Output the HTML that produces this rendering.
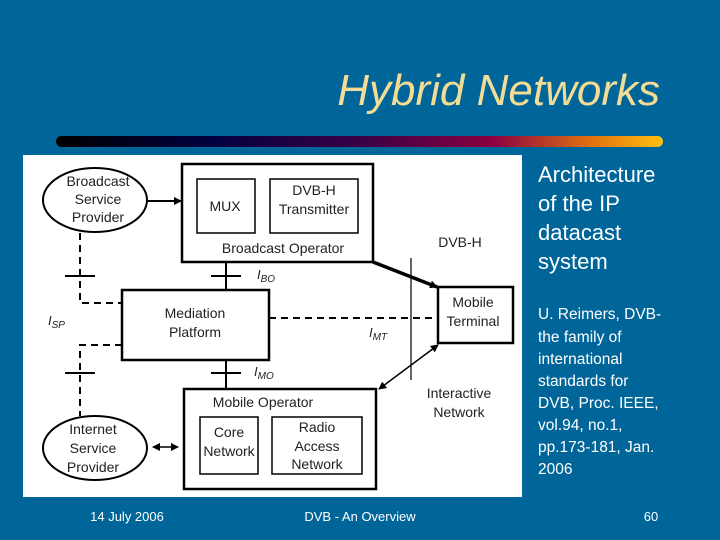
<!DOCTYPE html>
<html><head><style>
body{margin:0;width:720px;height:540px;background:#00669a;overflow:hidden;position:relative;font-family:"Liberation Sans",sans-serif}
.t{position:absolute;color:#fff}
</style></head><body>
<div class="t" style="right:60px;top:66px;font-size:44px;font-style:italic;color:#f5dc94">Hybrid Networks</div>
<div style="position:absolute;left:56px;top:136px;width:607px;height:11px;border-radius:6px;background:linear-gradient(90deg,#000 0%,#000040 25%,#3a0046 50%,#8a0040 72%,#e07010 88%,#ffc010 100%)"></div>
<svg style="position:absolute;left:0;top:0" width="720" height="540" font-family="Liberation Sans, sans-serif" fill="#222">
<defs><marker id="a" markerWidth="8" markerHeight="8" refX="7" refY="4" orient="auto" markerUnits="userSpaceOnUse"><path d="M0,0L8,4L0,8z" fill="#000"/></marker>
<marker id="b" markerWidth="8" markerHeight="8" refX="1" refY="4" orient="auto" markerUnits="userSpaceOnUse"><path d="M8,0L0,4L8,8z" fill="#000"/></marker></defs>
<rect x="23" y="155" width="499" height="342" fill="#fff"/>
<g stroke="#000" fill="none" stroke-width="2">
<ellipse cx="95" cy="200" rx="52" ry="32"/>
<ellipse cx="95" cy="448" rx="52" ry="32"/>
<rect x="182" y="164" width="191" height="98" stroke-width="2.5"/>
<rect x="197" y="179" width="58" height="54" stroke-width="1.5"/>
<rect x="270" y="179" width="88" height="54" stroke-width="1.5"/>
<rect x="122" y="290" width="147" height="70" stroke-width="2.5"/>
<rect x="438" y="287" width="75" height="56" stroke-width="2.5"/>
<rect x="184" y="389" width="192" height="100" stroke-width="2.5"/>
<rect x="200" y="417" width="58" height="57" stroke-width="1.5"/>
<rect x="272" y="417" width="90" height="57" stroke-width="1.5"/>
<line x1="147" y1="201" x2="181" y2="201" marker-end="url(#a)"/>
<line x1="226" y1="262" x2="226" y2="290"/><line x1="211" y1="276" x2="241" y2="276"/>
<line x1="226" y1="360" x2="226" y2="389"/><line x1="211" y1="373" x2="241" y2="373"/>
<line x1="373" y1="262" x2="437" y2="287" stroke-width="3.5" marker-end="url(#a)"/>
<line x1="411" y1="258" x2="411" y2="380" stroke-width="1.2"/>
<line x1="438" y1="345" x2="379" y2="389" stroke-width="1.5" marker-end="url(#a)" marker-start="url(#b)"/>
<line x1="153" y1="447" x2="178" y2="447" stroke-width="1.5" marker-end="url(#a)" marker-start="url(#b)"/>
<g stroke-dasharray="7,5">
<polyline points="80,233 80,303 122,303"/>
<polyline points="122,345 80,345 80,416"/>
<line x1="269" y1="318" x2="438" y2="318"/>
</g>
<line x1="65" y1="276" x2="95" y2="276"/><line x1="65" y1="373" x2="95" y2="373"/>
</g>
<g font-size="14" text-anchor="middle">
<text x="98" y="186">Broadcast</text><text x="98" y="204">Service</text><text x="98" y="222">Provider</text>
<text x="93" y="434">Internet</text><text x="93" y="453">Service</text><text x="93" y="472">Provider</text>
<text x="225" y="211">MUX</text>
<text x="314" y="195">DVB-H</text><text x="314" y="214">Transmitter</text>
<text x="283" y="253">Broadcast Operator</text>
<text x="195" y="318">Mediation</text><text x="195" y="337">Platform</text>
<text x="473" y="307">Mobile</text><text x="473" y="326">Terminal</text>
<text x="460" y="247">DVB-H</text>
<text x="459" y="398">Interactive</text><text x="459" y="417">Network</text>
<text x="263" y="407">Mobile Operator</text>
<text x="229" y="437">Core</text><text x="229" y="456">Network</text>
<text x="317" y="432">Radio</text><text x="317" y="451">Access</text><text x="317" y="469">Network</text>
</g>
<g font-size="13" font-style="italic">
<text x="257" y="279">I<tspan font-size="10" dy="3">BO</tspan></text>
<text x="254" y="376">I<tspan font-size="10" dy="3">MO</tspan></text>
<text x="369" y="337">I<tspan font-size="10" dy="3">MT</tspan></text>
<text x="48" y="325">I<tspan font-size="10" dy="3">SP</tspan></text>
</g>
<g fill="#fff" font-size="22">
<text x="538" y="182">Architecture</text><text x="538" y="211">of the IP</text><text x="538" y="240">datacast</text><text x="538" y="269">system</text>
</g>
<g fill="#fff" font-size="15.5">
<text x="538" y="319">U. Reimers, DVB-</text><text x="538" y="342">the family of</text><text x="538" y="364">international</text><text x="538" y="386">standards for</text><text x="538" y="408">DVB,   Proc. IEEE,</text><text x="538" y="430">vol.94, no.1,</text><text x="538" y="452">pp.173-181, Jan.</text><text x="538" y="474">2006</text>
</g>
<g fill="#fff" font-size="13" text-anchor="middle">
<text x="127" y="521">14 July 2006</text><text x="360" y="521">DVB - An Overview</text><text x="651" y="521">60</text>
</g>
</svg>
</body></html>
